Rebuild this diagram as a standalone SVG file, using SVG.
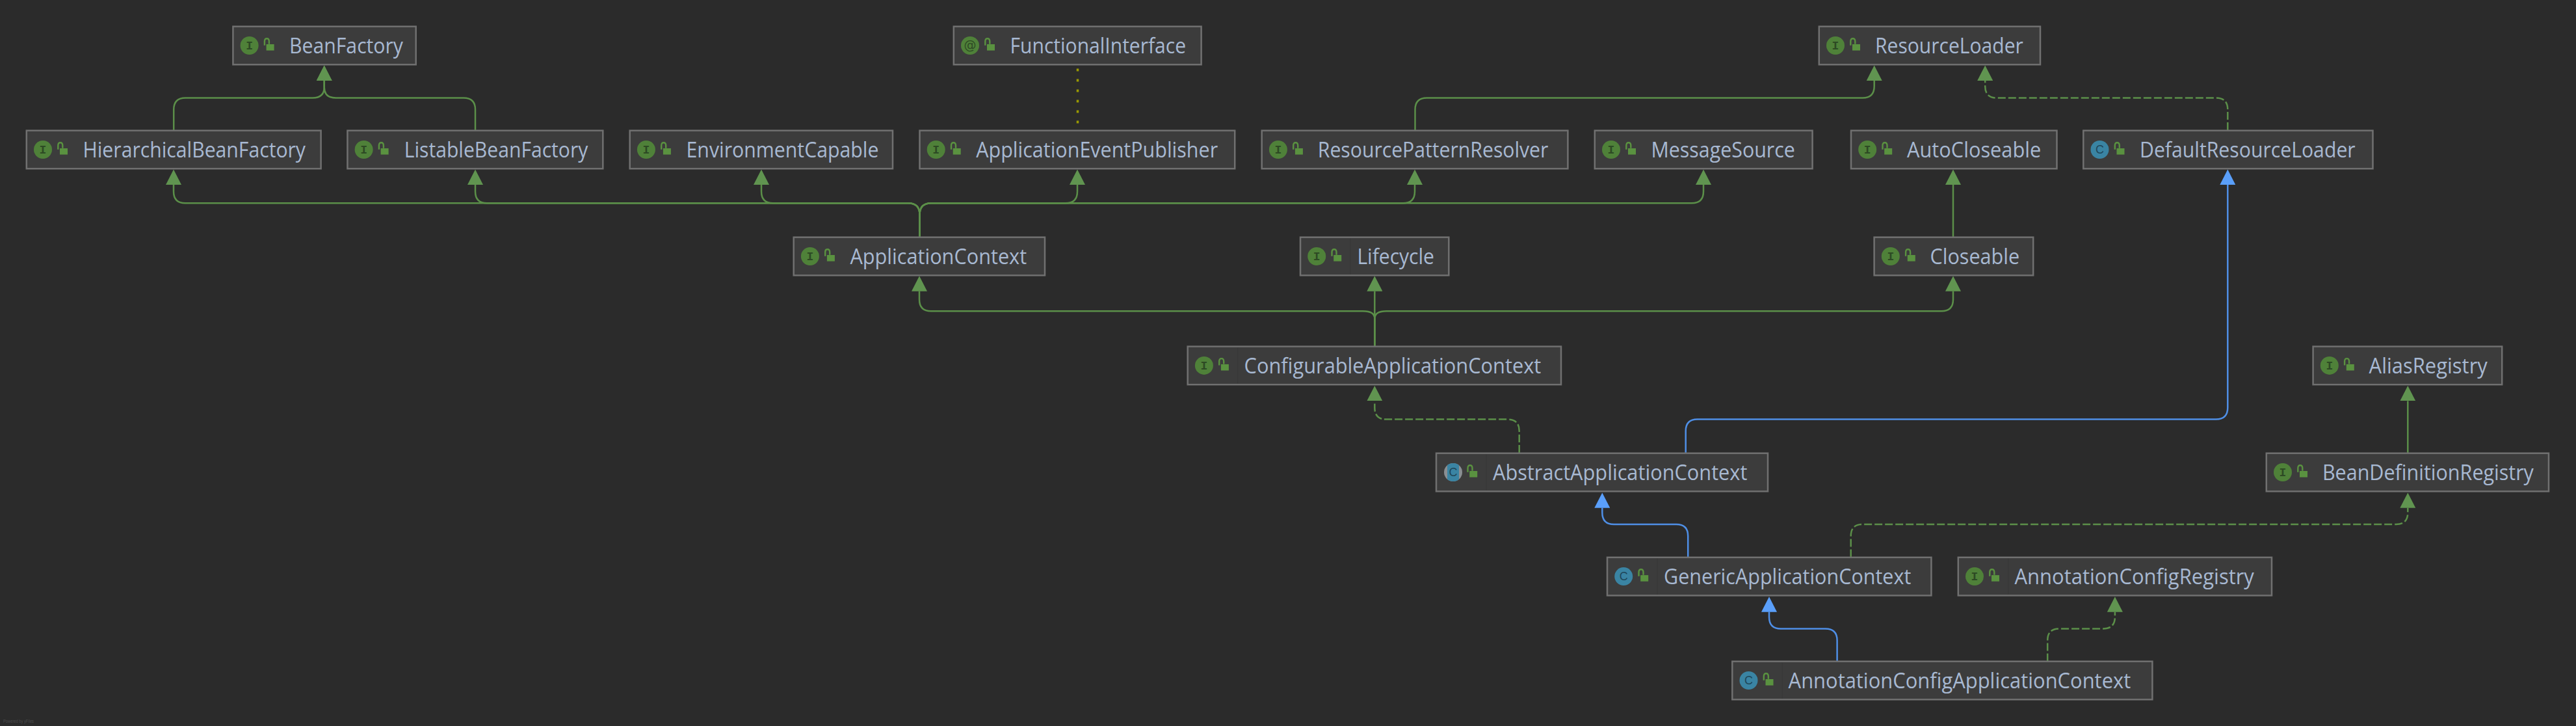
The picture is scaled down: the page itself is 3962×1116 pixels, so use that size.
<svg xmlns="http://www.w3.org/2000/svg" width="3962" height="1116" viewBox="0 0 3962 1116">
<style>
.bg{fill:#2b2b2b}
.box{fill:#3c3c3c;stroke:#707070;stroke-width:2.5}
.div{stroke:#383838;stroke-width:1.5}
.name{font-family:"Open Sans","Noto Sans","Liberation Sans",sans-serif;font-size:32px;fill:#a8b9d2}
.ii{fill:#4f8139}
.ci{fill:#3a84a3}
.gi{fill:#8a8f93}
.gl{font-family:"Liberation Mono",monospace;font-size:18px;font-weight:700;fill:#2d4a24;text-anchor:middle}
.gc{font-family:"Liberation Sans",sans-serif;font-size:18px;font-weight:400;fill:#1f4658;text-anchor:middle}
.ga{font-family:"DejaVu Sans",sans-serif;font-size:19px;fill:#2d4a24;text-anchor:middle}
.lk{fill:#5a9240}
.ls{fill:none;stroke:#5a9240;stroke-width:2.4}
.g{fill:none;stroke:#5b8f49;stroke-width:2.5;marker-end:url(#ag)}
.gd{fill:none;stroke:#5b8f49;stroke-width:2.5;stroke-dasharray:12 4;marker-end:url(#ag)}
.b{fill:none;stroke:#4f8fe6;stroke-width:2.5;marker-end:url(#ab)}
.dot{fill:none;stroke:#9a9a00;stroke-width:3.5;stroke-dasharray:4 12}
.foot{font-family:"Liberation Sans",sans-serif;font-size:8px;fill:#4d4d4d}
</style>
<defs>
<marker id="ag" markerUnits="userSpaceOnUse" viewBox="0 -12 24 24" markerWidth="24" markerHeight="24" refX="0" refY="0" orient="auto"><path d="M0,-12 L23.4,0 L0,12 Z" fill="#609450"/></marker>
<marker id="ab" markerUnits="userSpaceOnUse" viewBox="0 -12 24 24" markerWidth="24" markerHeight="24" refX="0" refY="0" orient="auto"><path d="M0,-12 L23.4,0 L0,12 Z" fill="#5a9ffa"/></marker>
<g id="lock"><rect class="lk" x="51.2" y="27.3" width="12" height="9.6"/><path class="ls" d="M48.5,29 V23 Q48.5,18.5 52,18.5 Q55.5,18.5 55.5,23 V27"/></g>
</defs>
<rect class="bg" width="3962" height="1116"/>
<g id="connectors">
<path class="g" d="M267.2,200 V168.5 Q267.2,150.5 285.2,150.5 H480.7 Q498.7,150.5 498.7,134 V124"/>
<path class="g" d="M731,200 V168.5 Q731,150.5 713,150.5 H516.7 Q498.7,150.5 498.7,134 V124"/>
<path class="dot" d="M1657.5,105.5 V190"/>
<path class="g" d="M1414.5,364 V330 Q1414.5,312.3 1396.5,312.3 H285 Q267,312.3 267,294.3 V284"/>
<path class="g" d="M1414.5,364 V330 Q1414.5,312.3 1396.5,312.3 H749 Q731,312.3 731,294.3 V284"/>
<path class="g" d="M1414.5,364 V330 Q1414.5,312.3 1396.5,312.3 H1189 Q1171,312.3 1171,294.3 V284"/>
<path class="g" d="M1414.5,364 V330 Q1414.5,312.3 1432.5,312.3 H1639 Q1657,312.3 1657,294.3 V284"/>
<path class="g" d="M1414.5,364 V330 Q1414.5,312.3 1432.5,312.3 H2158 Q2176,312.3 2176,294.3 V284"/>
<path class="g" d="M1414.5,364 V330 Q1414.5,312.3 1432.5,312.3 H2602 Q2620,312.3 2620,294.3 V284"/>
<path class="g" d="M2176.5,200 V168.5 Q2176.5,150.5 2194.5,150.5 H2864.7 Q2882.7,150.5 2882.7,132.5 V124"/>
<path class="gd" d="M3426.3,200 V168.5 Q3426.3,150.5 3408.3,150.5 H3071.2 Q3053.2,150.5 3053.2,132.5 V124"/>
<path class="g" d="M3004,364 V284"/>
<path class="g" d="M2114.3,532 V490 Q2114.3,478.3 2096.3,478.3 H1432 Q1414,478.3 1414,460.3 V447.7"/>
<path class="g" d="M2114.3,532 V447.7"/>
<path class="g" d="M2114.3,532 V490 Q2114.3,478.3 2132.3,478.3 H2986 Q3004,478.3 3004,460.3 V447.7"/>
<path class="gd" d="M2336.7,696 V662.6 Q2336.7,644.6 2318.7,644.6 H2132.3 Q2114.3,644.6 2114.3,626.6 V616.4"/>
<path class="b" d="M2592.7,696 V662.6 Q2592.7,644.6 2610.7,644.6 H3408.3 Q3426.3,644.6 3426.3,626.6 V284"/>
<path class="g" d="M3703.3,696 V616.4"/>
<path class="b" d="M2596.2,856.5 V824 Q2596.2,806 2578.2,806 H2482.3 Q2464.3,806 2464.3,788 V780.8"/>
<path class="gd" d="M2846.7,856.5 V824 Q2846.7,806 2864.7,806 H3685.3 Q3703.3,806 3703.3,788 V780.8"/>
<path class="b" d="M2825.6,1016.5 V984.4 Q2825.6,966.4 2807.6,966.4 H2739 Q2721,966.4 2721,948.4 V940.7"/>
<path class="gd" d="M3149.2,1016.5 V984.4 Q3149.2,966.4 3167.2,966.4 H3234.9 Q3252.9,966.4 3252.9,948.4 V940.7"/>
</g>
<g id="BeanFactory" transform="translate(358.4,40.7)"><rect class="box" width="281.3" height="58.6"/><circle class="ii" cx="25.2" cy="29.3" r="14"/><text class="gl" x="25.2" y="35">I</text><use href="#lock"/><text class="name" x="86.6" y="41" textLength="175" lengthAdjust="spacingAndGlyphs">BeanFactory</text></g>
<g id="FunctionalInterface" transform="translate(1466.8,40.7)"><rect class="box" width="380.8" height="58.6"/><circle class="ii" cx="25.2" cy="29.3" r="14"/><text class="ga" x="25.2" y="35.5">@</text><use href="#lock"/><text class="name" x="86.8" y="41" textLength="270.4" lengthAdjust="spacingAndGlyphs">FunctionalInterface</text></g>
<g id="ResourceLoader" transform="translate(2797.8,40.7)"><rect class="box" width="340.2" height="58.6"/><circle class="ii" cx="25.2" cy="29.3" r="14"/><text class="gl" x="25.2" y="35">I</text><use href="#lock"/><text class="name" x="86.2" y="41" textLength="227.9" lengthAdjust="spacingAndGlyphs">ResourceLoader</text></g>
<g id="HierarchicalBeanFactory" transform="translate(40.8,200.7)"><rect class="box" width="452.8" height="58.6"/><circle class="ii" cx="25.2" cy="29.3" r="14"/><text class="gl" x="25.2" y="35">I</text><use href="#lock"/><text class="name" x="86.7" y="41" textLength="342.5" lengthAdjust="spacingAndGlyphs">HierarchicalBeanFactory</text></g>
<g id="ListableBeanFactory" transform="translate(534.4,200.7)"><rect class="box" width="392.9" height="58.6"/><circle class="ii" cx="25.2" cy="29.3" r="14"/><text class="gl" x="25.2" y="35">I</text><use href="#lock"/><text class="name" x="87.4" y="41" textLength="282.5" lengthAdjust="spacingAndGlyphs">ListableBeanFactory</text></g>
<g id="EnvironmentCapable" transform="translate(968.7,200.7)"><rect class="box" width="404.3" height="58.6"/><circle class="ii" cx="25.2" cy="29.3" r="14"/><text class="gl" x="25.2" y="35">I</text><use href="#lock"/><text class="name" x="86.8" y="41" textLength="296" lengthAdjust="spacingAndGlyphs">EnvironmentCapable</text></g>
<g id="ApplicationEventPublisher" transform="translate(1414.5,200.7)"><rect class="box" width="484.7" height="58.6"/><circle class="ii" cx="25.2" cy="29.3" r="14"/><text class="gl" x="25.2" y="35">I</text><use href="#lock"/><text class="name" x="86.8" y="41" textLength="371.8" lengthAdjust="spacingAndGlyphs">ApplicationEventPublisher</text></g>
<g id="ResourcePatternResolver" transform="translate(1940.7,200.7)"><rect class="box" width="470.7" height="58.6"/><circle class="ii" cx="25.2" cy="29.3" r="14"/><text class="gl" x="25.2" y="35">I</text><use href="#lock"/><text class="name" x="86.1" y="41" textLength="354.6" lengthAdjust="spacingAndGlyphs">ResourcePatternResolver</text></g>
<g id="MessageSource" transform="translate(2452.8,200.7)"><rect class="box" width="334.8" height="58.6"/><circle class="ii" cx="25.2" cy="29.3" r="14"/><text class="gl" x="25.2" y="35">I</text><use href="#lock"/><text class="name" x="86.7" y="41" textLength="221.3" lengthAdjust="spacingAndGlyphs">MessageSource</text></g>
<g id="AutoCloseable" transform="translate(2847,200.7)"><rect class="box" width="316.5" height="58.6"/><circle class="ii" cx="25.2" cy="29.3" r="14"/><text class="gl" x="25.2" y="35">I</text><use href="#lock"/><text class="name" x="86" y="41" textLength="206.3" lengthAdjust="spacingAndGlyphs">AutoCloseable</text></g>
<g id="DefaultResourceLoader" transform="translate(3204.3,200.7)"><rect class="box" width="445.2" height="58.6"/><circle class="ci" cx="25.2" cy="29.3" r="14"/><text class="gc" x="25.2" y="35.5">C</text><use href="#lock"/><text class="name" x="86.7" y="41" textLength="331.7" lengthAdjust="spacingAndGlyphs">DefaultResourceLoader</text></g>
<g id="ApplicationContext" transform="translate(1220.7,364.7)"><rect class="box" width="386.3" height="58.6"/><circle class="ii" cx="25.2" cy="29.3" r="14"/><text class="gl" x="25.2" y="35">I</text><use href="#lock"/><text class="name" x="86.7" y="41" textLength="271.7" lengthAdjust="spacingAndGlyphs">ApplicationContext</text></g>
<g id="Lifecycle" transform="translate(2000,364.7)"><rect class="box" width="228.3" height="58.6"/><path class="div" d="M77,2 V57"/><circle class="ii" cx="25.2" cy="29.3" r="14"/><text class="gl" x="25.2" y="35">I</text><use href="#lock"/><text class="name" x="87.4" y="41" textLength="118.6" lengthAdjust="spacingAndGlyphs">Lifecycle</text></g>
<g id="Closeable" transform="translate(2882.6,364.7)"><rect class="box" width="244.6" height="58.6"/><circle class="ii" cx="25.2" cy="29.3" r="14"/><text class="gl" x="25.2" y="35">I</text><use href="#lock"/><text class="name" x="85.8" y="41" textLength="137.8" lengthAdjust="spacingAndGlyphs">Closeable</text></g>
<g id="ConfigurableApplicationContext" transform="translate(1826.7,532.6)"><rect class="box" width="574.3" height="58.6"/><path class="div" d="M77,2 V57"/><circle class="ii" cx="25.2" cy="29.3" r="14"/><text class="gl" x="25.2" y="35">I</text><use href="#lock"/><text class="name" x="86.9" y="41" textLength="456.7" lengthAdjust="spacingAndGlyphs">ConfigurableApplicationContext</text></g>
<g id="AliasRegistry" transform="translate(3557.6,532.6)"><rect class="box" width="290.6" height="58.6"/><circle class="ii" cx="25.2" cy="29.3" r="14"/><text class="gl" x="25.2" y="35">I</text><use href="#lock"/><text class="name" x="86" y="41" textLength="182.2" lengthAdjust="spacingAndGlyphs">AliasRegistry</text></g>
<g id="AbstractApplicationContext" transform="translate(2209,696.7)"><rect class="box" width="510" height="58.6"/><path class="div" d="M77,2 V57"/><circle class="gi" cx="26" cy="29.3" r="14"/><path class="ci" d="M17,18.6 A14,14 0 0 1 35,18.6 V40 A14,14 0 0 1 17,40 Z"/><text class="gc" x="26" y="35.5">C</text><use href="#lock"/><text class="name" x="87" y="41" textLength="391.4" lengthAdjust="spacingAndGlyphs">AbstractApplicationContext</text></g>
<g id="BeanDefinitionRegistry" transform="translate(3485.8,696.7)"><rect class="box" width="434.2" height="58.6"/><circle class="ii" cx="25.2" cy="29.3" r="14"/><text class="gl" x="25.2" y="35">I</text><use href="#lock"/><text class="name" x="86.1" y="41" textLength="325" lengthAdjust="spacingAndGlyphs">BeanDefinitionRegistry</text></g>
<g id="GenericApplicationContext" transform="translate(2472,856.8)"><rect class="box" width="498.4" height="58.6"/><path class="div" d="M77,2 V57"/><circle class="ci" cx="25.2" cy="29.3" r="14"/><text class="gc" x="25.2" y="35.5">C</text><use href="#lock"/><text class="name" x="87" y="41" textLength="380.3" lengthAdjust="spacingAndGlyphs">GenericApplicationContext</text></g>
<g id="AnnotationConfigRegistry" transform="translate(3011.8,856.8)"><rect class="box" width="482.2" height="58.6"/><path class="div" d="M77,2 V57"/><circle class="ii" cx="25.2" cy="29.3" r="14"/><text class="gl" x="25.2" y="35">I</text><use href="#lock"/><text class="name" x="86.6" y="41" textLength="368.5" lengthAdjust="spacingAndGlyphs">AnnotationConfigRegistry</text></g>
<g id="AnnotationConfigApplicationContext" transform="translate(2664.3,1016.7)"><rect class="box" width="646.1" height="58.6"/><path class="div" d="M77,2 V57"/><circle class="ci" cx="25.2" cy="29.3" r="14"/><text class="gc" x="25.2" y="35.5">C</text><use href="#lock"/><text class="name" x="86.3" y="41" textLength="526.6" lengthAdjust="spacingAndGlyphs">AnnotationConfigApplicationContext</text></g>
<text class="foot" x="5" y="1111" textLength="47" lengthAdjust="spacingAndGlyphs">Powered by yFiles</text>
</svg>
